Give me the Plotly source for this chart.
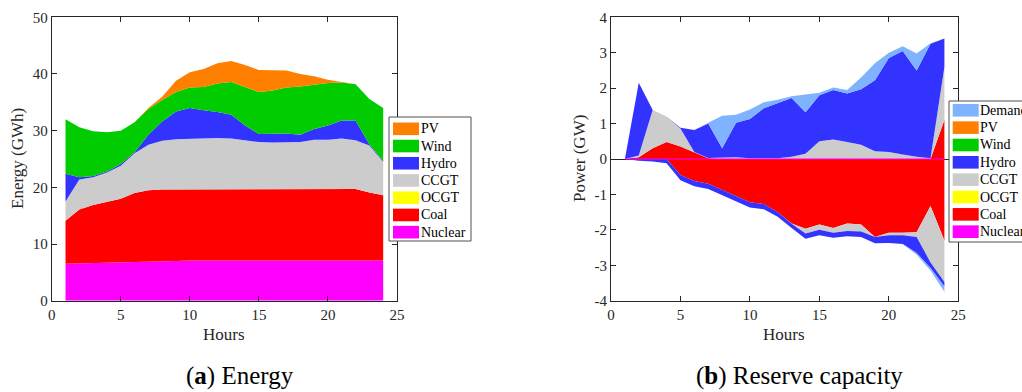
import plotly.graph_objects as go

# ---------------- data ----------------
hours = list(range(1, 25))

# (a) Energy (GWh), stacked
nuclear = [6.5, 6.55, 6.6, 6.65, 6.7, 6.75, 6.8, 6.9, 7.0, 7.1, 7.1, 7.1,
           7.1, 7.1, 7.1, 7.1, 7.1, 7.1, 7.1, 7.1, 7.1, 7.1, 7.1, 7.1]
coal = [7.6, 9.55, 10.3, 10.75, 11.3, 12.25, 12.7, 12.7, 12.6, 12.6, 12.6, 12.6,
        12.6, 12.6, 12.6, 12.5, 12.5, 12.5, 12.6, 12.6, 12.6, 12.6, 12.0, 11.5]
ocgt = [0.0] * 24
ccgt = [3.4, 5.3, 4.9, 5.2, 5.8, 7.0, 8.0, 8.6, 8.9, 8.9, 9.0, 9.0,
        8.9, 8.6, 8.3, 8.3, 8.4, 8.4, 8.7, 8.7, 8.9, 8.6, 8.3, 5.9]
hydro = [4.9, 0.4, 0.2, 0.2, 0.3, 0.2, 1.8, 3.4, 4.9, 5.4, 4.9, 4.6,
         4.2, 2.6, 1.4, 1.5, 1.5, 1.3, 1.9, 2.5, 3.2, 3.5, 0.2, 0.2]
wind = [9.6, 8.8, 7.9, 6.9, 5.9, 5.3, 4.5, 3.8, 3.4, 3.6, 4.1, 5.0,
        5.8, 6.8, 7.4, 7.7, 8.1, 8.5, 7.8, 7.5, 6.7, 6.4, 8.0, 9.3]
pv = [0, 0, 0, 0, 0, 0, 0.2, 0.6, 2.0, 2.7, 3.2, 3.6,
      3.7, 3.9, 3.9, 3.5, 3.0, 2.2, 1.5, 0.6, 0.1, 0, 0, 0]

# (b) Reserve capacity (GW): upward (positive) and downward (negative) stacks
nuclear_up = [0.0] * 24
coal_up = [0, 0.05, 0.3, 0.48, 0.35, 0.18, 0.02, 0, 0, 0, 0, 0,
           0, 0, 0, 0, 0, 0, 0, 0, 0, 0, 0, 1.1]
ocgt_up = [0.0] * 24
ccgt_up = [0, 0.05, 1.08, 0.72, 0.51, 0.02, 0.01, 0.05, 0.05, 0.02, 0.02, 0.02,
           0.06, 0.15, 0.5, 0.55, 0.48, 0.4, 0.22, 0.2, 0.13, 0.06, 0.02, 1.5]
hydro_up = [0, 2.05, 0, 0, 0.02, 0.62, 0.97, 0.25, 0.97, 1.11, 1.41, 1.55,
            1.66, 1.17, 1.3, 1.4, 1.37, 1.57, 2.0, 2.65, 2.92, 2.44, 3.23, 0.8]
wind_up = [0.0] * 24
pv_up = [0.0] * 24
demand_up = [0, 0, 0, 0, 0, 0, 0.02, 0.92, 0.23, 0.27, 0.17, 0.1,
             0.05, 0.51, 0.07, 0.07, 0.1, 0.33, 0.48, 0.15, 0.13, 0.48, 0.02, 0]

nuclear_dn = [0.0] * 24
coal_dn = [0, 0, 0, 0, -0.45, -0.62, -0.7, -0.88, -1.05, -1.22, -1.27, -1.5,
           -1.82, -1.97, -1.85, -1.95, -1.82, -1.85, -2.2, -2.08, -2.08, -2.07, -1.33, -2.3]
ocgt_dn = [0.0] * 24
ccgt_dn = [0, 0, 0, 0, 0, 0, 0, 0, 0, 0, 0, 0,
           -0.01, -0.13, -0.15, -0.13, -0.21, -0.2, 0, -0.07, -0.07, -0.13, -1.59, -1.17]
hydro_dn = [0, -0.05, -0.07, -0.12, -0.15, -0.15, -0.15, -0.14, -0.15, -0.15, -0.15, -0.13,
            -0.12, -0.15, -0.15, -0.14, -0.15, -0.15, -0.18, -0.22, -0.25, -0.45, -0.16, -0.13]
wind_dn = [0.0] * 24
pv_dn = [0.0] * 24
demand_dn = [0, 0, 0, 0, 0, 0, 0, 0, 0, 0, 0, 0,
             0, 0, 0, 0, 0, 0, 0, 0, 0, -0.05, -0.07, -0.15]

x_ticks = [0, 5, 10, 15, 20, 25]
y1_ticks = [0, 10, 20, 30, 40, 50]
y2_ticks = [-4, -3, -2, -1, 0, 1, 2, 3, 4]
y2_tick_labels = ["-4", "-3", "-2", "-1", "0", "1", "2", "3", "4"]

colors = {"Demand": "#80B3FF", "PV": "#FF8000", "Wind": "#00CC00", "Hydro": "#3333FF",
          "CCGT": "#CCCCCC", "OCGT": "#FFFF00", "Coal": "#FF0000", "Nuclear": "#FF00FF"}

energy_series = [("Nuclear", nuclear), ("Coal", coal), ("OCGT", ocgt), ("CCGT", ccgt),
                 ("Hydro", hydro), ("Wind", wind), ("PV", pv)]
up_series = [("Nuclear", nuclear_up), ("Coal", coal_up), ("OCGT", ocgt_up), ("CCGT", ccgt_up),
             ("Hydro", hydro_up), ("Wind", wind_up), ("PV", pv_up), ("Demand", demand_up)]
dn_series = [("Nuclear", nuclear_dn), ("Coal", coal_dn), ("OCGT", ocgt_dn), ("CCGT", ccgt_dn),
             ("Hydro", hydro_dn), ("Wind", wind_dn), ("PV", pv_dn), ("Demand", demand_dn)]

# ---------------- figure ----------------
W, H = 1022, 392
FONT = "Liberation Serif"
AX = "#262626"


def fx(p):
    return p / W


def fy(p):
    return 1 - p / H


fig = go.Figure()

for name, vals in energy_series:
    fig.add_trace(go.Scatter(x=hours, y=vals, name=name, stackgroup="energy", mode="lines",
                             line=dict(width=0, color=colors[name]), fillcolor=colors[name],
                             showlegend=False, xaxis="x", yaxis="y", hoverinfo="x+y+name"))

for grp, series in (("up", up_series), ("dn", dn_series)):
    for name, vals in series:
        fig.add_trace(go.Scatter(x=hours, y=vals, name=name, stackgroup=grp, mode="lines",
                                 line=dict(width=0, color=colors[name]), fillcolor=colors[name],
                                 showlegend=False, xaxis="x2", yaxis="y2", hoverinfo="x+y+name"))

# thin nuclear line at zero (drawn on top, as in the original)
fig.add_trace(go.Scatter(x=hours, y=nuclear_up, mode="lines", line=dict(color="#FF00FF", width=1),
                         showlegend=False, xaxis="x2", yaxis="y2", hoverinfo="skip"))

axis_common = dict(showline=True, linecolor=AX, linewidth=1, mirror="ticks", ticks="inside",
                   ticklen=5, tickcolor=AX, tickwidth=1, automargin=False,
                   tickfont=dict(family=FONT, size=15, color=AX),
                   showgrid=False, zeroline=False, fixedrange=True)

fig.update_layout(
    autosize=True,
    margin=dict(l=0, r=0, t=0, b=0, pad=0, autoexpand=False),
    paper_bgcolor="white", plot_bgcolor="white",
    font=dict(family=FONT, size=14, color=AX),
    showlegend=False,
    xaxis=dict(axis_common, domain=[fx(51.7), fx(397)], range=[0, 25], tickvals=x_ticks, anchor="y"),
    yaxis=dict(axis_common, domain=[fy(300.7), fy(17.3)], range=[0, 50], tickvals=y1_ticks, anchor="x"),
    xaxis2=dict(axis_common, domain=[fx(611), fx(958.3)], range=[0, 25], tickvals=x_ticks, anchor="y2"),
    yaxis2=dict(axis_common, domain=[fy(300.7), fy(17.3)], range=[-4, 4], tickvals=y2_ticks,
                ticktext=y2_tick_labels, anchor="x2",
                zeroline=True, zerolinecolor=AX, zerolinewidth=1),
)

annotations = []
shapes = []


def label(text, x, y, size, angle=0, color=AX):
    annotations.append(dict(text=text, x=fx(x), y=fy(y), textangle=angle, showarrow=False,
                            xanchor="center", yanchor="middle", xref="paper", yref="paper",
                            font=dict(family=FONT, size=size, color=color)))


label("Energy (GWh)", 18, 159, 17, -90)
label("Hours", 224, 334, 17)
label("Power (GW)", 580, 159, 17, -90)
label("Hours", 784, 334, 17)
label("(<b>a</b>) Energy", 239.5, 376, 25, color="black")
label("(<b>b</b>) Reserve capacity", 799, 376, 25, color="black")


def add_legend(box, names, first_y, step, rx0, rx1, tx):
    x0, y0, x1, y1 = box
    shapes.append(dict(type="rect", xref="paper", yref="paper", x0=fx(x0), x1=fx(x1),
                       y0=fy(y1), y1=fy(y0), fillcolor="white",
                       line=dict(color="#505050", width=1), layer="above"))
    for i, nm in enumerate(names):
        cy = first_y + step * i
        shapes.append(dict(type="rect", xref="paper", yref="paper", x0=fx(rx0), x1=fx(rx1),
                           y0=fy(cy + 6.3), y1=fy(cy - 6.3), fillcolor=colors[nm],
                           line=dict(width=0), layer="above"))
        annotations.append(dict(text=nm, x=fx(tx), y=fy(cy), xanchor="left", yanchor="middle",
                                showarrow=False, xref="paper", yref="paper",
                                font=dict(family=FONT, size=14, color="black")))


add_legend((389, 117, 471, 241), [n for n, _ in reversed(energy_series)], 128.8, 17.23,
           393, 419, 418.5)
add_legend((949, 101, 1045, 242), [n for n, _ in reversed(up_series)], 110.3, 17.34,
           952.7, 978.7, 978.2)

fig.update_layout(annotations=annotations, shapes=shapes)

# pin the figure div to the top-left corner of the 1022x392 window
fig.write_html("out.html", config={"displayModeBar": False},
               default_width="%dpx" % W,
               default_height="%dpx;position:fixed;top:0;left:0" % H)
